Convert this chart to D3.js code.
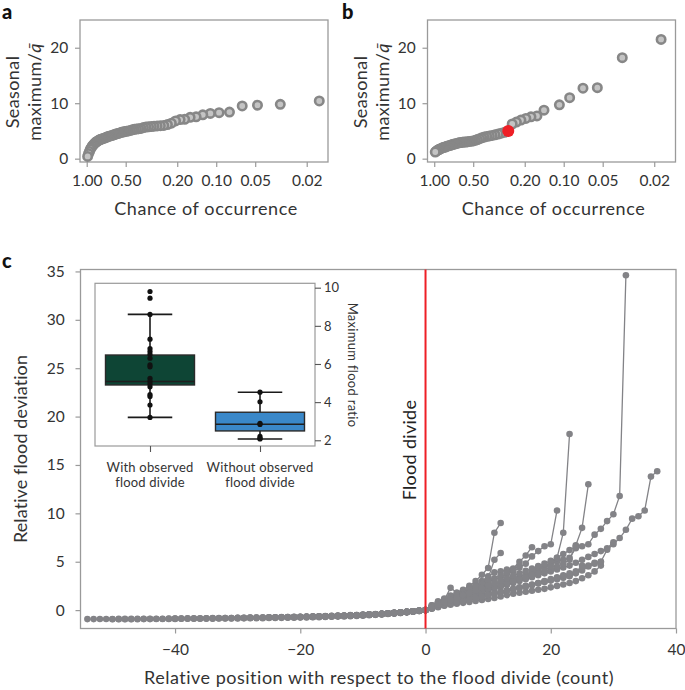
<!DOCTYPE html>
<html>
<head>
<meta charset="utf-8">
<script src="https://cdn.jsdelivr.net/npm/d3@7"></script>
<style>
  body { margin: 0; background: #fff; }
  svg { display: block; font-family: Lato, "Open Sans", sans-serif; }
</style>
</head>
<body>
<svg id="chart" width="685" height="690"></svg>
<script>
// ---------------- DATA ----------------
// Panel a: chance of occurrence (plotting positions) and seasonal maximum / mean
const chanceA = [0.016,0.032,0.048,0.063,0.079,0.095,0.111,0.127,0.143,0.159,0.175,0.190,0.206,0.222,0.238,0.254,0.270,0.286,0.302,0.317,0.333,0.349,0.365,0.381,0.397,0.413,0.429,0.444,0.460,0.476,0.492,0.508,0.524,0.540,0.556,0.571,0.587,0.603,0.619,0.635,0.651,0.667,0.683,0.698,0.714,0.730,0.746,0.762,0.778,0.794,0.810,0.825,0.841,0.857,0.873,0.889,0.905,0.921,0.937,0.952,0.968,0.984];
const seasonalMaxA = [10.4,9.8,9.65,9.5,8.4,8.3,8.15,7.9,7.55,7.45,7.1,7.05,6.8,6.4,6.15,6.0,5.95,5.9,5.85,5.8,5.75,5.7,5.6,5.45,5.4,5.35,5.3,5.2,5.1,5.0,4.95,4.9,4.8,4.75,4.65,4.55,4.5,4.4,4.3,4.2,4.15,4.05,4.0,3.9,3.8,3.7,3.65,3.55,3.5,3.4,3.3,3.15,3.05,2.9,2.7,2.5,2.3,2.0,1.7,1.3,0.9,0.4];

// Panel b
const chanceB = [0.0177,0.0353,0.055,0.071,0.090,0.108,0.142,0.161,0.179,0.196,0.214,0.232,0.250,0.268,0.286,0.304,0.321,0.339,0.357,0.375,0.393,0.411,0.429,0.446,0.464,0.482,0.500,0.518,0.536,0.554,0.571,0.589,0.607,0.625,0.643,0.661,0.679,0.696,0.714,0.732,0.750,0.768,0.786,0.804,0.821,0.839,0.857,0.875,0.893,0.911,0.929,0.946,0.964,0.982];
const seasonalMaxB = [21.5,18.2,12.8,12.7,11.0,9.7,8.75,7.7,7.55,7.25,6.95,6.6,6.25,5.0,4.75,4.6,4.45,4.3,4.2,4.1,4.0,3.9,3.75,3.6,3.45,3.3,3.2,3.15,3.1,3.05,3.0,3.0,2.95,2.9,2.85,2.8,2.7,2.65,2.6,2.5,2.4,2.35,2.3,2.2,2.1,2.05,2.0,1.9,1.8,1.7,1.6,1.5,1.35,1.2];
const floodDivideIndexB = 13;   // highlighted (red) point in panel b

const chanceTicks = [1.00, 0.50, 0.20, 0.10, 0.05, 0.02];
const chanceTickLabels = ["1.00", "0.50", "0.20", "0.10", "0.05", "0.02"];
const seasonalTicks = [0, 10, 20];

// Panel c: relative flood deviation per station, consecutive positions from startPos
const startPos = [-54, -50, -40, -30, -25, -20, -18, -15, -12, -10, -8, -6, -5, -7, -9];
const devA = [-0.93,-0.93,-0.92,-0.92,-0.92,-0.91,-0.91,-0.91,-0.90,-0.90,-0.90,-0.89,-0.89,-0.88,-0.88,-0.87,-0.87,-0.86,-0.86,-0.85,-0.85,-0.84,-0.83,-0.83,-0.82,-0.81,-0.80,-0.79,-0.78,-0.77,-0.76,-0.75,-0.74,-0.72,-0.71,-0.69,-0.68,-0.66,-0.64,-0.62,-0.60,-0.58,-0.55,-0.52,-0.49,-0.46,-0.42,-0.38,-0.34,-0.29,-0.24,-0.18,-0.12,-0.06,
  0,0.3,0.5,0.7,0.9,1.1,1.3,1.5,1.7,1.9,2.1,2.3,2.5,2.7,2.9,3.2,3.5,3.8,4.2,4.5,4.8,5.0,5.2,5.4,6.4,6.6,6.8,7.8,8.4,9.2,9.9,11.8,34.6];
const devB = [-0.95,-0.95,-0.94,-0.94,-0.94,-0.93,-0.93,-0.92,-0.92,-0.91,-0.91,-0.90,-0.90,-0.89,-0.89,-0.88,-0.88,-0.87,-0.87,-0.86,-0.86,-0.85,-0.84,-0.84,-0.83,-0.82,-0.81,-0.80,-0.79,-0.78,-0.77,-0.76,-0.74,-0.73,-0.71,-0.69,-0.67,-0.65,-0.63,-0.60,-0.57,-0.53,-0.49,-0.45,-0.40,-0.35,-0.29,-0.22,-0.15,-0.08,
  0,0.2,0.4,0.55,0.7,0.85,1.0,1.15,1.3,1.45,1.6,1.75,1.9,2.05,2.2,2.35,2.5,2.65,2.8,2.95,3.1,3.25,3.4,3.6,3.8,4.1,4.5,4.8,5.0,6.25,6.8,7.45,8.3,9.45,9.7,10.3,13.8,14.35];
const devC = [-0.86,-0.86,-0.85,-0.85,-0.84,-0.84,-0.83,-0.82,-0.82,-0.81,-0.80,-0.79,-0.78,-0.77,-0.76,-0.75,-0.74,-0.72,-0.71,-0.70,-0.68,-0.67,-0.65,-0.63,-0.61,-0.59,-0.57,-0.55,-0.52,-0.50,-0.47,-0.44,-0.40,-0.37,-0.33,-0.28,-0.23,-0.17,-0.11,-0.05,
  0,0.15,0.3,0.45,0.55,0.65,0.75,0.85,0.95,1.05,1.15,1.25,1.4,1.55,1.7,1.8,1.9,2.0,2.1,2.2,2.35,2.5,2.65,2.8,3.0,3.3,3.6,4.0,4.6];
const devD = [-0.80,-0.79,-0.78,-0.77,-0.76,-0.75,-0.74,-0.73,-0.72,-0.71,-0.70,-0.68,-0.67,-0.65,-0.64,-0.62,-0.60,-0.58,-0.56,-0.54,-0.51,-0.48,-0.45,-0.42,-0.38,-0.34,-0.29,-0.23,-0.16,-0.08,
  0,0.2,0.4,0.6,0.8,1.0,1.2,1.4,1.6,1.8,2.0,2.2,2.4,2.6,2.8,3.0,3.2,3.4,3.6,3.8,4.0,4.2,4.4,4.6,4.9,5.2,5.5,5.8,6.1,6.4,7.0];
const devE = [-0.78,-0.77,-0.76,-0.75,-0.73,-0.72,-0.70,-0.69,-0.67,-0.65,-0.63,-0.61,-0.59,-0.56,-0.53,-0.50,-0.47,-0.43,-0.39,-0.35,-0.30,-0.24,-0.18,-0.12,-0.06,
  0,0.3,0.6,0.8,1.0,1.2,1.4,1.6,1.8,2.0,2.2,2.4,2.6,2.8,3.0,3.2,3.4,3.6,3.8,4.0,4.2,4.5,4.8,5.2,6.7,8.5,13.0];
const devF = [-0.72,-0.70,-0.69,-0.67,-0.65,-0.63,-0.61,-0.58,-0.56,-0.53,-0.50,-0.47,-0.43,-0.39,-0.35,-0.30,-0.25,-0.19,-0.13,-0.07,
  0,0.35,0.7,0.9,1.1,1.35,1.6,1.85,2.1,2.3,2.5,2.7,2.9,3.1,3.3,3.5,3.7,3.95,4.2,4.5,4.9,5.4,8.0,18.2];
const devG = [-0.70,-0.68,-0.66,-0.64,-0.62,-0.59,-0.57,-0.54,-0.51,-0.48,-0.45,-0.41,-0.37,-0.32,-0.27,-0.21,-0.15,-0.08,
  0,0.2,0.35,0.5,0.65,0.8,0.95,1.1,1.25,1.4,1.55,1.7,1.85,2.0,2.15,2.3,2.45,2.6,2.75,2.9,3.05,3.2,3.35,3.5,3.9,4.6];
const devH = [-0.64,-0.62,-0.60,-0.57,-0.54,-0.51,-0.48,-0.44,-0.40,-0.36,-0.31,-0.26,-0.20,-0.14,-0.07,
  0,0.35,0.7,1.0,1.3,1.6,1.9,2.15,2.4,2.65,2.9,3.15,3.4,3.7,4.0,4.4,4.8,5.55,6.1,6.6,6.8,10.3];
const devI = [-0.56,-0.53,-0.50,-0.46,-0.42,-0.38,-0.34,-0.29,-0.24,-0.18,-0.12,-0.06,
  0,0.25,0.5,0.75,1.0,1.2,1.4,1.6,1.8,2.0,2.2,2.4,2.6,2.8,3.0,3.2,3.4,3.6,3.8,4.1,4.5];
const devJ = [-0.50,-0.46,-0.42,-0.38,-0.34,-0.29,-0.24,-0.18,-0.12,-0.06,
  0,0.5,0.8,1.07,2.3,1.8,2.0,2.3,2.6,3.0,3.5,3.9,4.0,4.2,4.3,5.0,5.65,6.5];
const devK = [-0.44,-0.40,-0.35,-0.30,-0.24,-0.18,-0.12,-0.06,
  0,0.5,0.9,1.2,1.5,1.8,2.1,2.5,3.0,3.65,4.35,8.0,9.0];
const devL = [-0.36,-0.30,-0.24,-0.18,-0.12,-0.06,
  0,0.4,0.8,1.1,1.4,1.6,1.9,2.2,2.5,2.9,3.3,5.2,5.9];
const devM = [-0.30,-0.24,-0.18,-0.12,-0.06,
  0,0.3,0.6,0.9,1.2,1.5,1.8,2.1,2.4,2.7,3.0,3.3,3.6,3.9,4.2,4.6];
const devN = [-0.40,-0.35,-0.30,-0.24,-0.18,-0.12,-0.06,
  0,0.2,0.35,0.5,0.65,0.8,0.95,1.1,1.25,1.4,1.55,1.7,1.85,2.0,2.15,2.3,2.45,2.6,2.8,3.0,3.2,3.4,3.6,3.8,4.0,4.3,4.6,4.9,5.0];
const devO = [-0.47,-0.43,-0.39,-0.34,-0.29,-0.24,-0.18,-0.12,-0.06,
  0,0.3,0.55,0.8,1.05,1.3,1.55,1.8,2.05,2.3,2.55,2.8,3.05,3.3,3.55,3.8,4.05,4.3,4.55,4.8,5.1,5.4,5.8,6.2,6.6];
const deviationSeries = [devA, devB, devC, devD, devE, devF, devG, devH, devI, devJ, devK, devL, devM, devN, devO];

const posTicks = [-40, -20, 0, 20, 40];
const devTicks = [0, 5, 10, 15, 20, 25, 30, 35];

// Inset: maximum flood ratio
const insetGroups = ["With observed flood divide", "Without observed flood divide"];
const insetLabelLines = [["With observed", "flood divide"], ["Without observed", "flood divide"]];
const ratioWith = [9.8, 9.45, 8.6, 7.3, 6.8, 6.65, 6.5, 6.3, 5.95, 5.85, 5.25, 5.1, 4.95, 4.8, 4.4, 4.3, 3.85, 3.2];
const ratioWithout = [4.52, 4.02, 2.89, 2.83, 2.2, 2.1, 2.07];
const boxQ1 = [4.9, 2.49];
const boxMedian = [5.08, 2.84];
const boxQ3 = [6.47, 3.47];
const whiskerLow = [3.2, 2.07];
const whiskerHigh = [8.6, 4.52];
const boxColors = ["#0e4535", "#3a88c9"];
const ratioTicks = [2, 4, 6, 8, 10];

// ---------------- DRAWING ----------------
const svg = d3.select("#chart");
const frameColor = "#9a9a9a";
const textColor = "#333";
const tickFont = 15.5;

function panelLabel(x, y, t) {
  svg.append("text").attr("x", x).attr("y", y).text(t)
    .attr("font-size", 20).attr("font-weight", 900).attr("fill", "#111");
}

function drawFreqPanel(x0, chance, vals, highlight) {
  const xs = d3.scaleLog().domain([1.127, 0.0137]).range([x0, x0 + 248]);
  const ys = d3.scaleLinear().domain([-0.6, 25]).range([162, 20]);
  const g = svg.append("g");
  g.append("rect").attr("x", x0).attr("y", 20).attr("width", 248).attr("height", 142)
    .attr("fill", "none").attr("stroke", frameColor).attr("stroke-width", 1.3);
  const xAxis = d3.axisBottom(xs).tickValues(chanceTicks)
    .tickFormat((d, i) => chanceTickLabels[i]).tickSize(5).tickSizeOuter(0);
  const gx = g.append("g").attr("transform", "translate(0,162)").call(xAxis);
  const yAxis = d3.axisLeft(ys).tickValues(seasonalTicks).tickSize(5).tickSizeOuter(0);
  const gy = g.append("g").attr("transform", `translate(${x0},0)`).call(yAxis);
  [gx, gy].forEach(a => {
    a.select(".domain").remove();
    a.selectAll("line").attr("stroke", frameColor).attr("stroke-width", 1.2);
    a.selectAll("text").attr("font-size", tickFont).attr("fill", textColor).attr("font-family", "Lato");
  });
  gx.selectAll("text").attr("dy", "1.05em");
  gy.selectAll("text").attr("dx", "-0.25em");
  g.selectAll("circle.pt").data(vals).join("circle").attr("class", "pt")
    .attr("cx", (d, i) => xs(chance[i])).attr("cy", d => ys(d)).attr("r", 4.2)
    .attr("fill", "#c4c4c4").attr("stroke", "#878787").attr("stroke-width", 2.6);
  if (highlight != null) {
    g.append("circle").attr("cx", xs(chance[highlight])).attr("cy", ys(vals[highlight]))
      .attr("r", 6).attr("fill", "#ee1f26");
  }
  g.append("text").attr("x", x0 + 126).attr("y", 215).attr("text-anchor", "middle")
    .attr("font-size", 18).attr("letter-spacing", 0.6).attr("fill", textColor).text("Chance of occurrence");
  const yl = g.append("text").attr("transform", `translate(${x0 - 61},92) rotate(-90)`)
    .attr("text-anchor", "middle").attr("font-size", 18).attr("letter-spacing", 0.4).attr("fill", textColor);
  yl.append("tspan").attr("x", 0).attr("dy", 0).text("Seasonal");
  const t2 = yl.append("tspan").attr("x", 0).attr("dy", 22).text("maximum/");
  t2.append("tspan").attr("font-style", "italic").text("q\u0304");
}

panelLabel(2, 19, "a");
drawFreqPanel(80, chanceA, seasonalMaxA, null);
panelLabel(342, 19, "b");
drawFreqPanel(427.5, chanceB, seasonalMaxB, floodDivideIndexB);

// Panel c
panelLabel(2, 268, "c");
const cx = d3.scaleLinear().domain([-55.1, 40]).range([80.5, 676]);
const cy = d3.scaleLinear().domain([-1.9, 35.2]).range([628.5, 269.5]);
const gc = svg.append("g");
gc.append("rect").attr("x", 80.5).attr("y", 269.5).attr("width", 595.5).attr("height", 359)
  .attr("fill", "none").attr("stroke", frameColor).attr("stroke-width", 1.3);
const cxAxis = gc.append("g").attr("transform", "translate(0,628.5)")
  .call(d3.axisBottom(cx).tickValues(posTicks).tickFormat(d3.format("d")).tickSize(5).tickSizeOuter(0));
const cyAxis = gc.append("g").attr("transform", "translate(80.5,0)")
  .call(d3.axisLeft(cy).tickValues(devTicks).tickSize(5).tickSizeOuter(0));
[cxAxis, cyAxis].forEach(a => {
  a.select(".domain").remove();
  a.selectAll("line").attr("stroke", frameColor).attr("stroke-width", 1.2);
  a.selectAll("text").attr("font-size", tickFont).attr("fill", textColor).attr("font-family", "Lato");
});
cxAxis.selectAll("text").attr("dy", "1.2em").text(d => d < 0 ? "\u2212" + Math.abs(d) : d);
cyAxis.selectAll("text").attr("dx", "-0.5em");

const line = d3.line().x(d => cx(d[0])).y(d => cy(d[1]));
const dataLayer = gc.append("g");
deviationSeries.forEach((vals, s) => {
  const pts = vals.map((v, i) => [startPos[s] + i, v]);
  dataLayer.append("path").datum(pts).attr("d", line)
    .attr("fill", "none").attr("stroke", "#838387").attr("stroke-width", 1.3);
  dataLayer.append("g").selectAll("circle").data(pts).join("circle")
    .attr("cx", d => cx(d[0])).attr("cy", d => cy(d[1])).attr("r", 3.3).attr("fill", "#838387");
});

gc.append("line").attr("x1", cx(0)).attr("x2", cx(0)).attr("y1", 269.5).attr("y2", 628.5)
  .attr("stroke", "#ee1f26").attr("stroke-width", 2);
gc.append("text").attr("transform", `translate(${cx(0) - 10},450) rotate(-90)`)
  .attr("text-anchor", "middle").attr("font-size", 18).attr("letter-spacing", 0.3).attr("fill", "#222").text("Flood divide");

gc.append("text").attr("x", 379).attr("y", 684).attr("text-anchor", "middle")
  .attr("font-size", 18).attr("letter-spacing", 0.5).attr("fill", textColor)
  .text("Relative position with respect to the flood divide (count)");
gc.append("text").attr("transform", "translate(27,449) rotate(-90)")
  .attr("text-anchor", "middle").attr("font-size", 18).attr("letter-spacing", 0.1).attr("fill", textColor)
  .text("Relative flood deviation");

// Inset
const ix = d3.scalePoint().domain(insetGroups).range([95, 315]).padding(0.5);
const iy = d3.scaleLinear().domain([1.7, 10.23]).range([446, 283.3]);
const gi = svg.append("g");
gi.append("rect").attr("x", 95).attr("y", 283.3).attr("width", 220).attr("height", 162.7)
  .attr("fill", "#fff").attr("stroke", frameColor).attr("stroke-width", 1.2);
const boxW = 89;
insetGroups.forEach((gname, k) => {
  const c = ix(gname);
  gi.append("line").attr("x1", c).attr("x2", c).attr("y1", iy(whiskerLow[k])).attr("y2", iy(whiskerHigh[k]))
    .attr("stroke", "#1a1a1a").attr("stroke-width", 1.6);
  [whiskerLow[k], whiskerHigh[k]].forEach(w => {
    gi.append("line").attr("x1", c - boxW / 4).attr("x2", c + boxW / 4).attr("y1", iy(w)).attr("y2", iy(w))
      .attr("stroke", "#1a1a1a").attr("stroke-width", 1.6);
  });
  gi.append("rect").attr("x", c - boxW / 2).attr("y", iy(boxQ3[k])).attr("width", boxW)
    .attr("height", iy(boxQ1[k]) - iy(boxQ3[k])).attr("fill", boxColors[k])
    .attr("stroke", "#2a2a2a").attr("stroke-width", 1.4);
  gi.append("line").attr("x1", c - boxW / 2).attr("x2", c + boxW / 2).attr("y1", iy(boxMedian[k])).attr("y2", iy(boxMedian[k]))
    .attr("stroke", "#1f1f1f").attr("stroke-width", 1.4);
  const pts = k === 0 ? ratioWith : ratioWithout;
  gi.append("g").selectAll("circle").data(pts).join("circle")
    .attr("cx", c).attr("cy", d => iy(d)).attr("r", 2.6).attr("fill", "#111");
});
const ixAxis = gi.append("g").attr("transform", "translate(0,446)")
  .call(d3.axisBottom(ix).tickSize(6).tickFormat(""));
const iyAxis = gi.append("g").attr("transform", "translate(315,0)")
  .call(d3.axisRight(iy).tickValues(ratioTicks).tickSize(6).tickSizeOuter(0));
[ixAxis, iyAxis].forEach(a => {
  a.select(".domain").remove();
  a.selectAll("line").attr("stroke", "#555").attr("stroke-width", 1.1);
  a.selectAll("text").attr("font-size", 13).attr("fill", textColor).attr("font-family", "Lato");
});
insetGroups.forEach((gname, k) => {
  const t = gi.append("text").attr("x", ix(gname)).attr("y", 472).attr("text-anchor", "middle")
    .attr("font-size", 13).attr("letter-spacing", 0.2).attr("fill", textColor);
  insetLabelLines[k].forEach((ln, j) => t.append("tspan").attr("x", ix(gname)).attr("dy", j ? 14.5 : 0).text(ln));
});
gi.append("text").attr("transform", "translate(348,365) rotate(90)").attr("text-anchor", "middle")
  .attr("font-size", 13).attr("letter-spacing", 0.3).attr("fill", textColor).text("Maximum flood ratio");
</script>
</body>
</html>
